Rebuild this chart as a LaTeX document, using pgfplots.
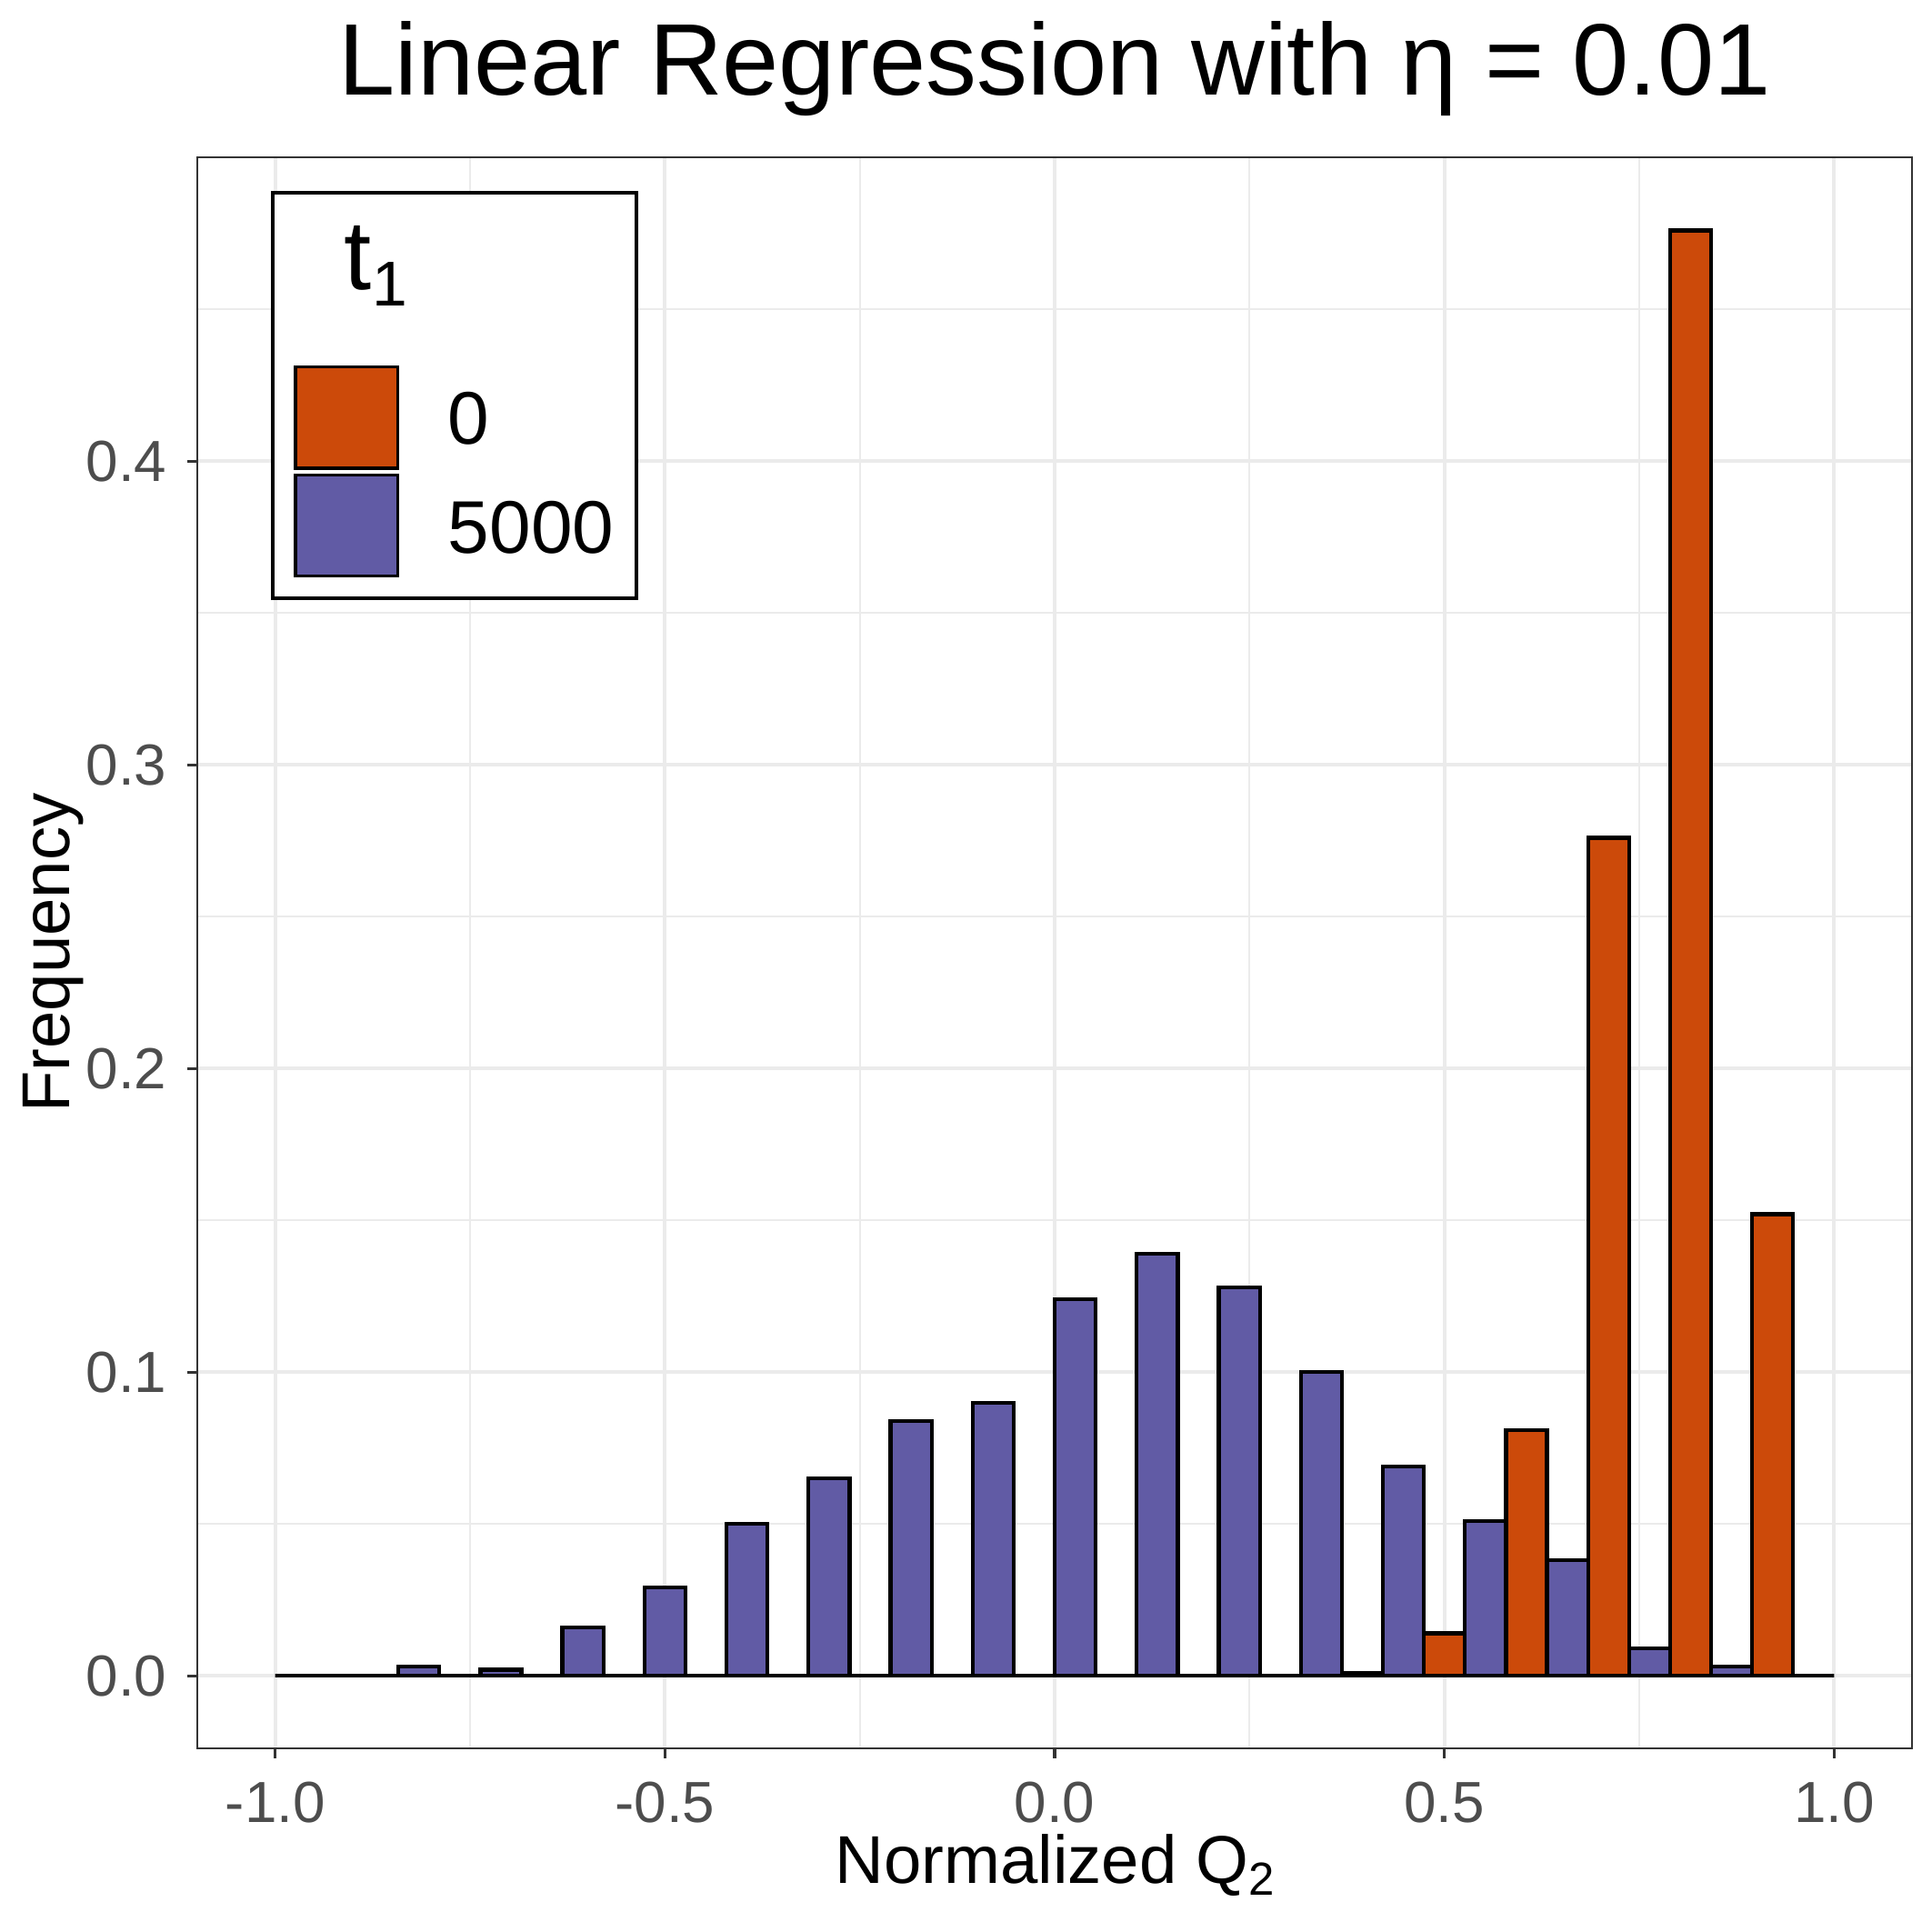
\documentclass[border=0pt]{standalone}
\usepackage{fontspec}
\setmainfont{Liberation Sans}
\usepackage{pgfplots}
\pgfplotsset{compat=1.18}
\definecolor{orng}{HTML}{CC4A0A}
\definecolor{purp}{HTML}{615BA5}
\definecolor{gridc}{HTML}{EBEBEB}
\definecolor{tickc}{HTML}{4D4D4D}
\definecolor{axc}{HTML}{333333}
\begin{document}
\begin{tikzpicture}
\useasboundingbox (-51.06pt,-47.6pt) rectangle (448.94pt,452.4pt);
\begin{axis}[
  at={(0,0)}, anchor=south west,
  width=443.8pt, height=411.6pt, scale only axis,
  xmin=-1.1, xmax=1.1, ymin=-0.0238, ymax=0.5,
  xtick={-1,-0.5,0,0.5,1}, xticklabels={-1.0,-0.5,0.0,0.5,1.0},
  ytick={0,0.1,0.2,0.3,0.4}, yticklabels={0.0,0.1,0.2,0.3,0.4},
  minor xtick={-0.75,-0.25,0.25,0.75},
  minor ytick={0.05,0.15,0.25,0.35,0.45},
  grid=both,
  major grid style={draw=gridc, line width=0.94pt},
  minor grid style={draw=gridc, line width=0.47pt},
  minor tick length=0pt,
  major tick length=2.7pt,
  tick align=outside,
  tick pos=left,
  major tick style={draw=axc, line width=0.8pt},
  axis line style={draw=axc, line width=0.47pt},
  ticklabel style={font=\fontsize{15}{18}\selectfont, text=tickc},
  xticklabel style={anchor=base, inner sep=0pt, yshift=-16.6pt},
  yticklabel style={anchor=east, inner sep=0pt, xshift=-5.05pt},
  xlabel={Normalized Q\raisebox{-3pt}{\fontsize{12}{12}\selectfont 2}},
  ylabel={Frequency},
  label style={font=\fontsize{17.5}{21}\selectfont},
  xlabel style={at={([yshift=-35.1pt]axis description cs:0.5,0)}, anchor=base, inner sep=0pt},
  ylabel style={at={([xshift=-33.0pt]axis description cs:0,0.5)}, anchor=base, inner sep=0pt},
]
% t1 = 0
\addplot[ybar, bar width=0.052632, bar shift=0pt, fill=orng, draw=black, line width=1pt] coordinates {
(-0.9737,0) (-0.8684,0) (-0.7632,0) (-0.6579,0) (-0.5526,0) (-0.4474,0) (-0.3421,0)
(-0.2368,0) (-0.1316,0) (-0.0263,0) (0.0789,0) (0.1842,0) (0.2895,0) (0.3947,0.001)
(0.5000,0.014) (0.6053,0.081) (0.7105,0.276) (0.8158,0.476) (0.9211,0.152)
};
% t1 = 5000
\addplot[ybar, bar width=0.052632, bar shift=0pt, fill=purp, draw=black, line width=1pt] coordinates {
(-0.9211,0) (-0.8158,0.003) (-0.7105,0.002) (-0.6053,0.016) (-0.5000,0.029) (-0.3947,0.050)
(-0.2895,0.065) (-0.1842,0.084) (-0.0789,0.090) (0.0263,0.124) (0.1316,0.139) (0.2368,0.128)
(0.3421,0.100) (0.4474,0.069) (0.5526,0.051) (0.6579,0.038) (0.7632,0.009) (0.8684,0.003)
(0.9737,0)
};
\end{axis}
% title
\node[anchor=base, inner sep=0pt, font=\fontsize{26.3}{32}\selectfont] at (221.9pt,427.9pt) {Linear Regression with η = 0.01};
% legend
\draw[black, line width=0.94pt, fill=white] (19.5pt,297.5pt) rectangle (113.6pt,402.4pt);
\draw[black, line width=0.8pt, fill=orng] (25.4pt,331.2pt) rectangle (51.86pt,357.5pt);
\draw[black, line width=0.8pt, fill=purp] (25.4pt,303.4pt) rectangle (51.86pt,329.4pt);
\node[anchor=base west, inner sep=0pt, font=\fontsize{19.3}{23}\selectfont] at (64.7pt,337.5pt) {0};
\node[anchor=base west, inner sep=0pt, font=\fontsize{19.3}{23}\selectfont] at (64.7pt,309.3pt) {5000};
\node[anchor=base west, inner sep=0pt, font=\fontsize{25.5}{30}\selectfont] at (37.9pt,377.5pt) {t};
\node[anchor=base west, inner sep=0pt, font=\fontsize{16.4}{20}\selectfont] at (45.2pt,373.2pt) {1};
\end{tikzpicture}
\end{document}
